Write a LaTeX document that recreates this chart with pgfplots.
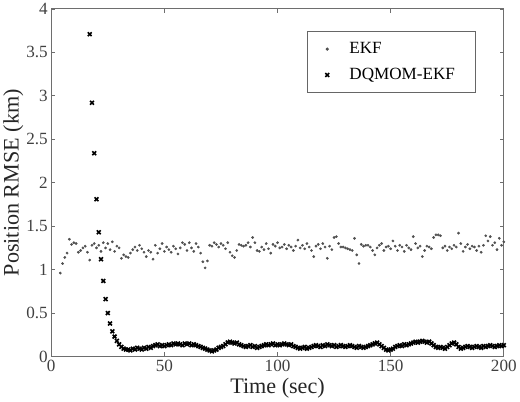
\documentclass[border=0pt]{standalone}
\usepackage{fontspec}
\setmainfont{Liberation Serif}
\usepackage{pgfplots}
\pgfplotsset{compat=1.18}
\definecolor{axisgray}{RGB}{110,110,110}
\definecolor{dotgray}{RGB}{80,80,80}

\begin{document}
\begin{tikzpicture}
\begin{axis}[
    width=448bp, height=344bp, scale only axis,
    xmin=0, xmax=200, ymin=0, ymax=4,
    xtick={0,50,...,200},
    ytick={0,0.5,...,4},
    yticklabel style={/pgf/number format/fixed},
    /pgf/number format/assume math mode=true,
    tick align=inside,
    major tick length=4bp,
    axis line style={axisgray, line width=1pt},
    tick style={axisgray, line width=0.8pt},
    ticklabel style={font=\fontsize{17}{19}\selectfont, text=black!75},
    label style={font=\fontsize{22}{24}\selectfont, text=black!85},
    xlabel={Time (sec)},
    ylabel={Position RMSE (km)},
    ylabel style={yshift=-4bp},
    legend style={at={(0.9375,0.936)}, anchor=north east,
        draw=black!60, thick,
        font=\fontsize{17}{19}\selectfont,
        inner xsep=18bp, inner ysep=9bp, row sep=9bp,
        /tikz/every odd column/.append style={column sep=18bp}},
    legend cell align=left,
]
% EKF
\addplot [only marks, mark=*, mark size=1.15bp, color=dotgray] coordinates {
(4,0.96) (5,1.07) (6,1.14) (7,1.19) (8,1.35) (9,1.29) (10,1.31) (11,1.30) (12,1.20) (13,1.22)
(14,1.25) (15,1.27) (16,1.20) (17,1.11) (18,1.28) (19,1.30) (20,1.25) (21,1.28) (22,1.21) (23,1.31)
(24,1.25) (25,1.30) (26,1.23) (27,1.32) (28,1.21) (29,1.27) (30,1.25) (31,1.13) (32,1.17) (33,1.15)
(34,1.14) (35,1.19) (36,1.23) (37,1.26) (38,1.22) (39,1.28) (40,1.24) (41,1.20) (42,1.15) (43,1.22)
(44,1.20) (45,1.12) (46,1.28) (47,1.19) (48,1.24) (49,1.30) (50,1.21) (51,1.26) (52,1.23) (53,1.20)
(54,1.27) (55,1.24) (56,1.18) (57,1.25) (58,1.31) (59,1.29) (60,1.22) (61,1.31) (62,1.25) (63,1.21)
(64,1.30) (65,1.26) (66,1.19) (67,1.09) (68,1.02) (69,1.10) (70,1.28) (71,1.27) (72,1.31) (73,1.29)
(74,1.26) (75,1.30) (76,1.28) (77,1.24) (78,1.31) (79,1.20) (80,1.16) (81,1.14) (82,1.22) (83,1.29)
(84,1.28) (85,1.27) (86,1.28) (87,1.31) (88,1.26) (89,1.37) (90,1.31) (91,1.22) (92,1.21) (93,1.26)
(94,1.23) (95,1.30) (96,1.24) (97,1.19) (98,1.29) (99,1.27) (100,1.31) (101,1.25) (102,1.26) (103,1.29)
(104,1.24) (105,1.28) (106,1.26) (107,1.22) (108,1.27) (109,1.34) (110,1.25) (111,1.28) (112,1.24) (113,1.30)
(114,1.26) (115,1.22) (116,1.15) (117,1.27) (118,1.29) (119,1.24) (120,1.30) (121,1.26) (122,1.13) (123,1.27)
(124,1.23) (125,1.37) (126,1.38) (127,1.30) (128,1.26) (129,1.26) (130,1.25) (131,1.24) (132,1.23) (133,1.22)
(134,1.36) (135,1.17) (136,1.07) (137,1.29) (138,1.27) (139,1.28) (140,1.28) (141,1.26) (142,1.22) (143,1.17)
(144,1.25) (145,1.28) (146,1.30) (147,1.22) (148,1.26) (149,1.27) (150,1.24) (151,1.33) (152,1.27) (153,1.22)
(154,1.28) (155,1.26) (156,1.21) (157,1.28) (158,1.25) (159,1.23) (160,1.38) (161,1.30) (162,1.25) (163,1.27)
(164,1.15) (165,1.22) (166,1.27) (167,1.26) (168,1.24) (169,1.37) (170,1.40) (171,1.40) (172,1.39) (173,1.25)
(174,1.27) (175,1.22) (176,1.26) (177,1.24) (178,1.28) (179,1.26) (180,1.42) (181,1.30) (182,1.21) (183,1.26)
(184,1.29) (185,1.24) (186,1.27) (187,1.26) (188,1.22) (189,1.27) (190,1.20) (191,1.28) (192,1.39) (193,1.33)
(194,1.38) (195,1.28) (196,1.31) (197,1.23) (198,1.36) (199,1.28) (200,1.32)
};
\addlegendentry{EKF}
% DQMOM-EKF
\addplot [only marks, mark=x, mark size=2.7bp, line width=1.6pt, color=black] coordinates {
(17,3.71) (18,2.92) (19,2.34) (20,1.81) (21,1.43) (22,1.12) (23,0.87) (24,0.66) (25,0.50) (26,0.38)
(27,0.29) (28,0.23) (29,0.18) (30,0.14) (31,0.11) (32,0.09) (33,0.08) (34,0.08) (35,0.07) (36,0.09)
(37,0.08) (38,0.10) (39,0.09) (40,0.08) (41,0.10) (42,0.09) (43,0.11) (44,0.10) (45,0.12) (46,0.13)
(47,0.14) (48,0.12) (49,0.13) (50,0.12) (51,0.13) (52,0.14) (53,0.13) (54,0.15) (55,0.14) (56,0.15)
(57,0.14) (58,0.13) (59,0.15) (60,0.14) (61,0.15) (62,0.13) (63,0.14) (64,0.13) (65,0.12) (66,0.11)
(67,0.10) (68,0.09) (69,0.08) (70,0.07) (71,0.06) (72,0.07) (73,0.08) (74,0.10) (75,0.11) (76,0.12)
(77,0.14) (78,0.16) (79,0.17) (80,0.16) (81,0.15) (82,0.16) (83,0.14) (84,0.13) (85,0.12) (86,0.11)
(87,0.12) (88,0.13) (89,0.11) (90,0.12) (91,0.10) (92,0.11) (93,0.12) (94,0.13) (95,0.14) (96,0.13)
(97,0.14) (98,0.15) (99,0.13) (100,0.14) (101,0.13) (102,0.14) (103,0.15) (104,0.14) (105,0.13) (106,0.14)
(107,0.12) (108,0.11) (109,0.10) (110,0.09) (111,0.10) (112,0.11) (113,0.09) (114,0.10) (115,0.11) (116,0.12)
(117,0.13) (118,0.12) (119,0.11) (120,0.13) (121,0.12) (122,0.14) (123,0.13) (124,0.12) (125,0.13) (126,0.11)
(127,0.12) (128,0.13) (129,0.12) (130,0.11) (131,0.12) (132,0.13) (133,0.12) (134,0.11) (135,0.10) (136,0.12)
(137,0.11) (138,0.10) (139,0.11) (140,0.12) (141,0.13) (142,0.14) (143,0.15) (144,0.16) (145,0.14) (146,0.12)
(147,0.10) (148,0.08) (149,0.07) (150,0.08) (151,0.09) (152,0.11) (153,0.12) (154,0.13) (155,0.12) (156,0.14)
(157,0.13) (158,0.14) (159,0.15) (160,0.16) (161,0.17) (162,0.16) (163,0.17) (164,0.18) (165,0.17) (166,0.16)
(167,0.17) (168,0.15) (169,0.13) (170,0.11) (171,0.10) (172,0.11) (173,0.10) (174,0.09) (175,0.11) (176,0.13)
(177,0.15) (178,0.16) (179,0.14) (180,0.11) (181,0.09) (182,0.10) (183,0.11) (184,0.12) (185,0.11) (186,0.10)
(187,0.11) (188,0.12) (189,0.11) (190,0.10) (191,0.12) (192,0.11) (193,0.12) (194,0.13) (195,0.12) (196,0.11)
(197,0.12) (198,0.13) (199,0.12) (200,0.13)
};
\addlegendentry{DQMOM-EKF}
\end{axis}
\end{tikzpicture}
\end{document}
